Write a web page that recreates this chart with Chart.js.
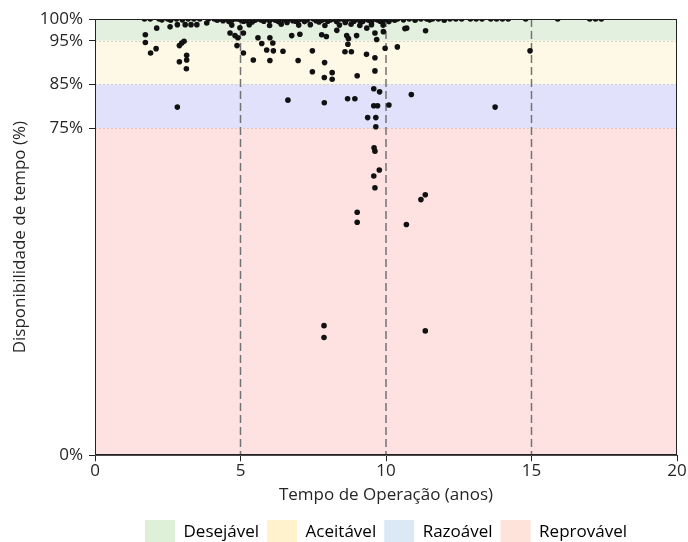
<!DOCTYPE html>
<html lang="pt">
<head>
  <meta charset="UTF-8">
  <title>Disponibilidade x Tempo de Operação</title>
  <style>
    * { margin: 0; padding: 0; box-sizing: border-box; }
    body { background: #fff; width: 688px; height: 542px; overflow: hidden; }
    canvas { display: block; }
  </style>
</head>
<body>
<canvas id="chart" width="688" height="542"></canvas>

<script src="https://cdn.jsdelivr.net/npm/chart.js"></script>
<script>
  // eixos
  const xTicks = [0, 5, 10, 15, 20];
  const yTicks = [0, 75, 85, 95, 100];
  const refYears = [5, 10, 15];

  // faixas de classificação
  const bandNames = ['Desejável', 'Aceitável', 'Razoável', 'Reprovável'];
  const bandLow = [95, 85, 75, 0];
  const bandHigh = [100, 95, 85, 75];
  const bandFill = ['#e3f0e0', '#fef8e6', '#e1e1fb', '#fee1e1'];
  const legendFill = ['#dff0d8', '#fff2cc', '#dbe9f6', '#fde3d9'];

  // pontos (tempo de operação em anos, disponibilidade em %)
  const opYears = [
    // faixa superior, ~100%
    1.7, 1.9, 2.2, 2.5, 2.8, 3.0, 3.2, 3.4, 3.6, 3.9, 4.1, 4.3, 4.5, 4.6, 4.8, 4.9, 5.0, 5.2, 5.3, 5.5,
    5.6, 5.8, 5.9, 6.1, 6.2, 6.4, 6.5, 6.7, 6.8, 7.0, 7.1, 7.3, 7.5, 7.6, 7.8, 7.9, 8.1, 8.2, 8.4, 8.5,
    8.7, 8.8, 9.0, 9.1, 9.3, 9.4, 9.6, 9.7, 9.9, 10.0, 10.2, 10.4, 10.6, 10.8, 11.0, 11.2, 11.4, 11.6, 11.8, 12.0,
    12.2, 12.4, 12.6, 12.9, 13.1, 13.3, 13.6, 13.8, 14.0, 14.2, 14.8, 15.9, 17.0, 17.2, 17.4,
    // logo abaixo de 100%
    2.3, 2.6, 3.0, 4.2, 4.4, 4.7, 5.0, 5.2, 5.5, 5.7, 6.0, 6.2, 6.5, 6.8, 7.0, 7.3, 7.6, 7.8, 8.1, 8.3,
    8.6, 8.9, 9.1, 9.4, 9.7, 9.9, 10.3, 10.6, 11.0, 11.5, 12.0,
    4.6, 5.1, 5.4, 5.8, 6.3, 6.6, 6.9, 7.2, 7.7, 8.0, 8.3, 8.6, 8.9, 9.2, 9.5, 9.8, 10.1,
    4.7, 5.3, 6.0, 6.4, 7.0, 7.4, 7.9, 8.4, 8.8, 9.1, 9.5, 9.9,
    // desejável
    1.73, 2.12, 2.58, 2.83, 3.1, 3.3, 3.5, 3.84, 4.64, 4.81, 4.91, 5.10, 4.98, 5.60, 6.01, 6.76, 7.04, 7.79, 7.95,
    8.31, 8.65, 8.71, 8.99, 9.34, 9.62, 9.68, 9.91, 10.65, 10.71, 11.36,
    // aceitável
    1.73, 1.91, 2.10, 2.90, 3.15, 3.15, 3.14, 2.90, 2.98, 3.06, 4.88, 5.10, 5.44, 5.73, 6.01, 5.90, 6.13, 6.46,
    6.11, 6.98, 7.47, 7.89, 7.47, 7.88, 8.15, 8.15, 8.59, 8.81, 8.69, 9.01, 9.33, 9.62, 9.62, 9.97, 10.39, 14.95,
    // razoável
    2.83, 6.63, 7.88, 8.68, 8.93, 9.37, 9.65, 9.58, 9.78, 9.58, 9.71, 9.65, 10.10, 10.87, 13.75,
    // reprovável
    9.59, 9.62, 9.77, 9.58, 9.62, 11.35, 11.20, 9.01, 9.01, 10.70, 7.87, 7.87, 11.35
  ];
  const availability = [
    100, 100, 100, 100, 100, 100, 100, 100, 100, 100, 100, 100, 100, 100, 100, 100, 100, 100, 100, 100,
    100, 100, 100, 100, 100, 100, 100, 100, 100, 100, 100, 100, 100, 100, 100, 100, 100, 100, 100, 100,
    100, 100, 100, 100, 100, 100, 100, 100, 100, 100, 100, 100, 100, 100, 100, 100, 100, 100, 100, 100,
    100, 100, 100, 100, 100, 100, 100, 100, 100, 100, 100, 100, 100, 100, 100,
    99.8, 99.7, 99.8, 99.7, 99.6, 99.7, 99.8, 99.6, 99.7, 99.8, 99.6, 99.7, 99.8, 99.6, 99.7, 99.8, 99.6, 99.7, 99.8, 99.6,
    99.7, 99.8, 99.6, 99.7, 99.8, 99.6, 99.7, 99.8, 99.7, 99.8, 99.7,
    99.4, 99.5, 99.3, 99.5, 99.4, 99.2, 99.5, 99.4, 99.3, 99.5, 99.4, 99.2, 99.5, 99.4, 99.3, 99.5, 99.4,
    98.6, 98.7, 98.5, 98.8, 98.6, 98.7, 98.5, 98.6, 98.8, 98.5, 98.7, 98.6,
    96.4, 97.9, 98.2, 98.7, 98.7, 98.7, 98.7, 99.1, 96.8, 96.2, 95.7, 96.8, 98.0, 95.7, 95.7, 96.2, 96.5, 96.4, 96.0,
    97.4, 96.2, 95.5, 96.2, 97.9, 96.8, 95.3, 97.1, 97.8, 97.9, 97.3,
    94.6, 92.2, 93.2, 90.2, 91.7, 90.6, 88.6, 93.9, 94.5, 94.9, 93.9, 92.2, 90.6, 94.4, 90.5, 92.9, 92.7, 92.6,
    94.5, 90.5, 92.7, 90.0, 87.9, 86.6, 87.7, 86.2, 92.5, 92.5, 94.2, 87.0, 91.9, 91.1, 88.1, 93.3, 93.6, 92.7,
    79.8, 81.4, 80.8, 81.7, 81.7, 77.4, 77.4, 84.0, 83.3, 80.1, 80.1, 75.3, 80.3, 82.7, 79.8,
    70.5, 69.7, 65.4, 64.0, 61.3, 59.7, 58.6, 55.7, 53.4, 52.9, 29.7, 27.0, 28.5
  ];

  const points = opYears.map((x, i) => ({ x: x, y: availability[i] }));

  const FONT = "'Open Sans', 'DejaVu Sans', sans-serif";
  const TXT = '#262626';
  const FS = 17;

  // faixas de fundo + linhas tracejadas verticais
  const bandsPlugin = {
    id: 'bands',
    beforeDatasetsDraw(chart) {
      const { ctx, chartArea: a, scales: { x, y } } = chart;
      ctx.save();
      bandNames.forEach((name, i) => {
        const top = y.getPixelForValue(bandHigh[i]);
        const bot = y.getPixelForValue(bandLow[i]);
        ctx.fillStyle = bandFill[i];
        ctx.fillRect(a.left, top, a.right - a.left, bot - top);
      });
      // limites das faixas
      ctx.setLineDash([2, 2]);
      ctx.lineWidth = 1;
      ctx.strokeStyle = 'rgba(150,150,120,0.35)';
      [95, 85, 75].forEach(v => {
        const py = Math.round(y.getPixelForValue(v)) + 0.5;
        ctx.beginPath();
        ctx.moveTo(a.left, py);
        ctx.lineTo(a.right, py);
        ctx.stroke();
      });
      ctx.setLineDash([8, 4]);
      ctx.lineWidth = 1.5;
      ctx.strokeStyle = '#737373';
      refYears.forEach(v => {
        const px = x.getPixelForValue(v);
        ctx.beginPath();
        ctx.moveTo(px, a.top);
        ctx.lineTo(px, a.bottom);
        ctx.stroke();
      });
      ctx.restore();
    },
    afterDatasetsDraw(chart) {
      const { ctx, chartArea: a } = chart;
      ctx.save();
      ctx.strokeStyle = '#222';
      ctx.lineWidth = 1;
      ctx.strokeRect(Math.round(a.left) + 0.5, Math.round(a.top) + 0.5,
        Math.round(a.right - a.left) - 1, Math.round(a.bottom - a.top) - 1);
      ctx.restore();
    }
  };

  new Chart(document.getElementById('chart'), {
    type: 'scatter',
    data: {
      datasets: [{
        label: 'Disponibilidade',
        data: points,
        backgroundColor: '#111',
        borderColor: '#111',
        borderWidth: 0,
        pointRadius: 2.8,
        pointHoverRadius: 2.8,
        clip: 0
      }]
    },
    options: {
      responsive: false,
      animation: false,
      devicePixelRatio: 1,
      layout: { padding: { top: 19, right: 11, left: 0, bottom: -12 } },
      plugins: {
        tooltip: { enabled: false },
        legend: {
          position: 'bottom',
          align: 'center',
          fullSize: false,
          labels: {
            color: TXT,
            font: { family: FONT, size: FS },
            boxWidth: 30,
            boxHeight: 24,
            padding: 8,
            generateLabels: () => bandNames.map((n, i) => ({
              text: n,
              fillStyle: legendFill[i],
              strokeStyle: legendFill[i],
              lineWidth: 0,
              hidden: false,
              datasetIndex: 0
            }))
          },
          onClick: () => {}
        }
      },
      scales: {
        x: {
          type: 'linear',
          min: 0,
          max: 20,
          afterBuildTicks: s => { s.ticks = xTicks.map(v => ({ value: v })); },
          ticks: { color: TXT, font: { family: FONT, size: FS }, padding: 0, autoSkip: false, maxRotation: 0 },
          grid: { drawOnChartArea: false, tickLength: 6, color: '#222' },
          border: { color: '#222' },
          title: { display: true, text: 'Tempo de Operação (anos)', color: TXT,
            font: { family: FONT, size: FS }, padding: { top: 3, bottom: 7 } }
        },
        y: {
          type: 'linear',
          min: 0,
          max: 100,
          afterBuildTicks: s => { s.ticks = yTicks.map(v => ({ value: v })); },
          afterFit: s => { s.width = 95; },
          ticks: { color: TXT, font: { family: FONT, size: FS }, padding: 6, autoSkip: false,
            callback: v => v + '%' },
          grid: { drawOnChartArea: false, tickLength: 6, color: '#222' },
          border: { color: '#222' },
          title: { display: true, text: 'Disponibilidade de tempo (%)', color: TXT,
            font: { family: FONT, size: FS }, padding: { top: 10, bottom: 0 } }
        }
      }
    },
    plugins: [bandsPlugin]
  });
</script>
</body>
</html>
